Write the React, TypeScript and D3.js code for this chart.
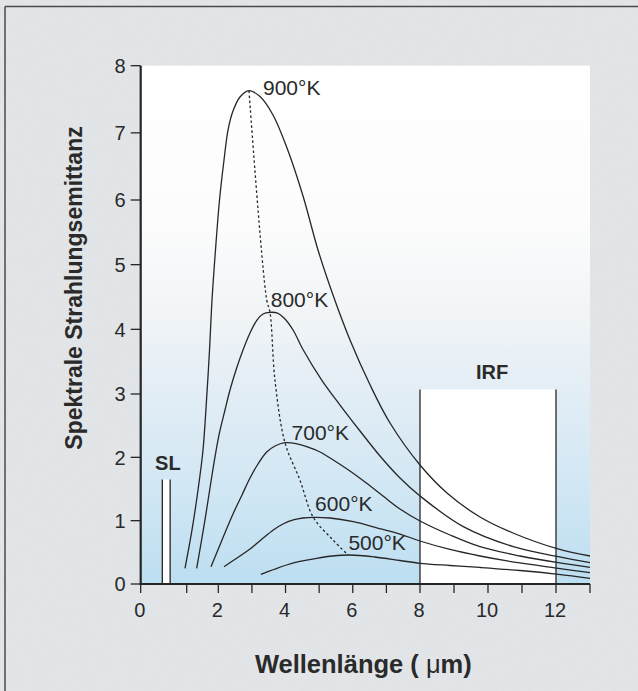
import React from 'react';
import * as d3 from 'd3';

const W = 638;
const H = 691;

// ---- data ----
const xTickValues = d3.range(0, 14);
const xTickLabels = [0, 2, 4, 6, 8, 10, 12];
const yTickValues = d3.range(0, 9);

const temperatures = ['900°K', '800°K', '700°K', '600°K', '500°K'];

const curve900: [number, number][] = [
  [0.963, 0.248], [1.168, 0.853], [1.358, 1.484], [1.516, 2.116], [1.627, 2.9], [1.722, 3.68],
  [1.801, 4.454], [1.911, 5.227], [2.036, 6.0], [2.17, 6.596], [2.289, 7.042], [2.437, 7.325],
  [2.645, 7.534], [2.913, 7.628], [3.24, 7.541], [3.627, 7.266], [4.044, 6.774], [4.52, 6.06],
  [4.966, 5.227], [5.412, 4.531], [5.918, 3.835], [6.513, 3.142], [7.108, 2.542], [8.0, 1.879],
  [8.794, 1.437], [9.765, 1.058], [10.735, 0.805], [12.059, 0.553], [13.0, 0.442],
];
const curve800: [number, number][] = [
  [1.316, 0.248], [1.579, 1.011], [1.801, 1.721], [2.021, 2.353], [2.199, 2.747], [2.348, 3.062],
  [2.527, 3.371], [2.735, 3.68], [2.943, 3.943], [3.151, 4.144], [3.33, 4.237], [3.538, 4.263],
  [3.747, 4.253], [3.955, 4.175], [4.223, 3.99], [4.528, 3.68], [5.076, 3.216], [5.621, 2.826],
  [6.216, 2.416], [6.81, 2.021], [7.405, 1.674], [8.0, 1.39], [9.274, 0.905], [10.744, 0.589],
  [12.068, 0.431], [13.0, 0.336],
];
const curve700: [number, number][] = [
  [1.769, 0.273], [2.11, 0.695], [2.437, 1.105], [2.705, 1.405], [2.943, 1.674], [3.181, 1.895],
  [3.44, 2.084], [3.687, 2.179], [3.984, 2.231], [4.311, 2.218], [4.629, 2.168], [5.025, 2.084],
  [5.421, 1.958], [5.917, 1.784], [6.414, 1.59], [6.899, 1.389], [7.405, 1.184], [8.0, 0.995],
  [8.882, 0.774], [9.765, 0.589], [10.941, 0.442], [12.068, 0.336], [13.0, 0.264],
];
const curve600: [number, number][] = [
  [2.17, 0.273], [2.556, 0.411], [2.943, 0.553], [3.3, 0.711], [3.636, 0.853], [3.924, 0.947],
  [4.231, 1.011], [4.52, 1.042], [4.826, 1.053], [5.323, 1.042], [6.016, 0.984], [6.691, 0.892],
  [7.405, 0.789], [8.0, 0.679], [8.882, 0.545], [9.765, 0.442], [10.941, 0.332], [12.068, 0.248],
  [13.0, 0.178],
];
const curve500: [number, number][] = [
  [3.266, 0.153], [3.652, 0.229], [4.03, 0.3], [4.426, 0.358], [4.922, 0.406], [5.407, 0.442],
  [5.913, 0.458], [6.657, 0.426], [7.405, 0.371], [8.0, 0.327], [8.882, 0.292], [9.765, 0.261],
  [10.941, 0.213], [12.068, 0.153], [13.0, 0.09],
];
const curves = [curve900, curve800, curve700, curve600, curve500];

const wienLocus: [number, number][] = [
  [2.913, 7.628], [3.44, 4.454], [3.538, 4.263], [3.685, 3.216], [3.984, 2.231], [4.428, 1.642],
  [4.826, 1.053], [5.412, 0.695], [5.859, 0.458],
];

const labelAnchors: [number, number][] = [
  [3.33, 7.56], [3.56, 4.34], [4.18, 2.27], [4.88, 1.16], [5.87, 0.53],
];

const slLines = [0.47, 0.64];
const slTop = 1.65;
const irfBand = [8, 12];
const irfTop = 3.07;

export default function App() {
  const x = d3.scaleLinear().domain([0, 1, 2, 8, 13]).range([140.7, 186.7, 218.3, 420, 590]);
  const y = d3.scaleLinear().domain([0, 3, 6, 8]).range([584, 394, 200, 65.7]);

  const line = d3
    .line<[number, number]>()
    .x((d) => x(d[0]))
    .y((d) => y(d[1]))
    .curve(d3.curveCatmullRom.alpha(0.5));

  const font = "'Liberation Sans', Arial, Helvetica, sans-serif";
  const ink = '#262626';
  const txt = '#2a2a2a';

  return (
    <svg
      width={W}
      height={H}
      viewBox={`0 0 ${W} ${H}`}
      style={{ position: 'absolute', left: 0, top: 0 }}
      fontFamily={font}
    >
      <defs>
        <linearGradient id="plotGrad" gradientUnits="userSpaceOnUse" x1="0" y1={y(8)} x2="0" y2={y(0)}>
          <stop offset="0" stopColor="#ffffff" />
          <stop offset="0.3" stopColor="#fcfcfc" />
          <stop offset="0.47" stopColor="#f2f5f7" />
          <stop offset="0.63" stopColor="#e2edf5" />
          <stop offset="0.82" stopColor="#d1e7f4" />
          <stop offset="1" stopColor="#bcdef1" />
        </linearGradient>
        <filter id="paper" x="0" y="0" width="100%" height="100%">
          <feTurbulence type="fractalNoise" baseFrequency="0.9" numOctaves="2" seed="3" result="n" />
          <feColorMatrix type="saturate" values="0" in="n" result="g" />
          <feComponentTransfer in="g" result="a">
            <feFuncA type="linear" slope="0.18" intercept="0" />
          </feComponentTransfer>
          <feComposite in="a" in2="SourceGraphic" operator="in" />
        </filter>
      </defs>

      {/* page */}
      <rect x={0} y={0} width={W} height={H} fill="#e4e7ea" />
      <rect x={0} y={0} width={W} height={H} fill="#ffffff" filter="url(#paper)" opacity={0.6} />
      <line x1={5} y1={6.5} x2={W} y2={6.5} stroke="#4a4a4a" strokeWidth={1.5} />
      <line x1={5} y1={6.5} x2={5} y2={H} stroke="#4a4a4a" strokeWidth={1.5} />

      {/* plot background */}
      <rect x={x(0)} y={y(8)} width={x(13) - x(0)} height={y(0) - y(8)} fill="url(#plotGrad)" />

      {/* IRF band */}
      <rect
        x={x(irfBand[0])}
        y={y(irfTop)}
        width={x(irfBand[1]) - x(irfBand[0])}
        height={y(0) - y(irfTop)}
        fill="#ffffff"
      />
      {irfBand.map((v) => (
        <line key={v} x1={x(v)} x2={x(v)} y1={y(0)} y2={y(irfTop)} stroke={ink} strokeWidth={1.3} />
      ))}
      <text
        x={(x(irfBand[0]) + x(irfBand[1])) / 2 + 4}
        y={y(irfTop) - 10}
        textAnchor="middle"
        fontSize={20}
        fontWeight="bold"
        fill={txt}
      >
        IRF
      </text>

      {/* SL band */}
      <rect x={x(slLines[0])} y={y(slTop)} width={x(slLines[1]) - x(slLines[0])} height={y(0) - y(slTop)} fill="#ffffff" />
      {slLines.map((v) => (
        <line key={v} x1={x(v)} x2={x(v)} y1={y(0)} y2={y(slTop)} stroke={ink} strokeWidth={1.3} />
      ))}
      <text x={x(0.59)} y={y(1.8)} textAnchor="middle" fontSize={20} fontWeight="bold" fill={txt}>
        SL
      </text>

      {/* curves */}
      {curves.map((c, i) => (
        <path key={i} d={line(c) || ''} fill="none" stroke={ink} strokeWidth={1.3} />
      ))}
      <path d={line(wienLocus) || ''} fill="none" stroke={ink} strokeWidth={1.3} strokeDasharray="2.5,2.5" />

      {temperatures.map((t, i) => (
        <text key={t} x={x(labelAnchors[i][0])} y={y(labelAnchors[i][1])} fontSize={21} fill={txt}>
          {t}
        </text>
      ))}

      {/* axes */}
      <line x1={x(0)} x2={x(0)} y1={y(0) + 1} y2={y(8)} stroke={ink} strokeWidth={2.2} />
      <line x1={x(0) - 1} x2={x(13)} y1={y(0)} y2={y(0)} stroke={ink} strokeWidth={2.2} />
      {yTickValues.map((v) => (
        <g key={v}>
          <line x1={x(0) - 10} x2={x(0)} y1={y(v)} y2={y(v)} stroke={ink} strokeWidth={1.3} />
          <text x={x(0) - 15} y={y(v)} dy="0.36em" textAnchor="end" fontSize={20} fill={txt}>
            {v}
          </text>
        </g>
      ))}
      {xTickValues.map((v) => (
        <line key={v} x1={x(v)} x2={x(v)} y1={y(0)} y2={y(0) + 9} stroke={ink} strokeWidth={1.3} />
      ))}
      {xTickLabels.map((v) => (
        <text key={v} x={x(v) - 1} y={y(0) + 33} textAnchor="middle" fontSize={20} fill={txt}>
          {v}
        </text>
      ))}

      <text x={(x(0) + x(13)) / 2 - 2} y={673} textAnchor="middle" fontSize={25.5} fontWeight="bold" fill={txt}>
        Wellenlänge ( <tspan fontWeight="normal">μ</tspan>m)
      </text>
      <text
        transform={`translate(${82},${288}) rotate(-90)`}
        textAnchor="middle"
        fontSize={23}
        fontWeight="bold"
        fill={txt}
      >
        Spektrale Strahlungsemittanz
      </text>
    </svg>
  );
}
